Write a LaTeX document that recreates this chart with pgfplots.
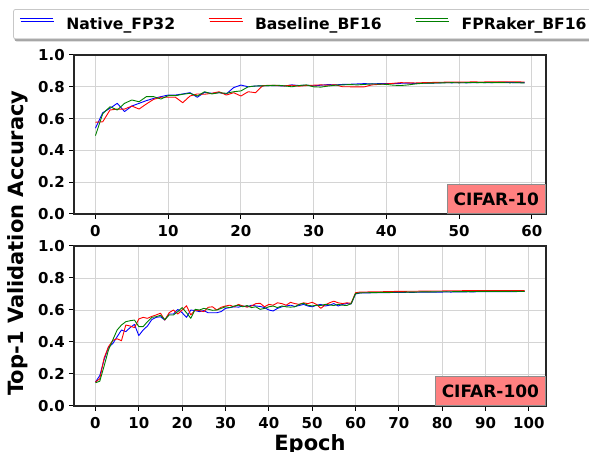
\documentclass[border=0pt]{standalone}
\usepackage{fontspec}
\setmainfont{DejaVu Sans}
\usepackage{pgfplots}
\pgfplotsset{compat=1.18}
\usepackage{pgfplotstable}
\usetikzlibrary{shadows}

\definecolor{mblue}{rgb}{0,0,1}
\definecolor{mred}{rgb}{1,0,0}
\definecolor{mgreen}{rgb}{0,0.5,0}
\definecolor{boxred}{HTML}{FF8080}

% CIFAR-10: epoch, Native_FP32, Baseline_BF16, FPRaker_BF16
\pgfplotstableread{
e n b f
0 0.540 0.577 0.493
1 0.637 0.580 0.630
2 0.665 0.654 0.675
3 0.696 0.660 0.654
4 0.644 0.660 0.696
5 0.679 0.679 0.717
6 0.696 0.660 0.706
7 0.713 0.692 0.738
8 0.727 0.721 0.738
9 0.738 0.734 0.723
10 0.748 0.734 0.744
11 0.748 0.734 0.744
12 0.755 0.700 0.753
13 0.763 0.742 0.759
14 0.734 0.755 0.742
15 0.765 0.753 0.769
16 0.759 0.759 0.755
17 0.763 0.769 0.763
18 0.755 0.748 0.759
19 0.795 0.763 0.769
20 0.811 0.742 0.774
21 0.800 0.769 0.800
22 0.805 0.763 0.805
23 0.806 0.807 0.806
24 0.808 0.810 0.808
25 0.807 0.808 0.810
26 0.805 0.806 0.806
27 0.812 0.810 0.800
28 0.808 0.804 0.808
29 0.810 0.808 0.812
30 0.806 0.810 0.800
31 0.810 0.812 0.798
32 0.814 0.810 0.805
33 0.812 0.813 0.810
34 0.815 0.800 0.812
35 0.816 0.800 0.814
36 0.818 0.799 0.812
37 0.820 0.800 0.815
38 0.818 0.812 0.818
39 0.820 0.815 0.817
40 0.821 0.818 0.815
41 0.820 0.822 0.810
42 0.822 0.826 0.808
43 0.823 0.825 0.812
44 0.821 0.824 0.818
45 0.822 0.826 0.822
46 0.823 0.827 0.823
47 0.824 0.828 0.824
48 0.826 0.829 0.825
49 0.825 0.830 0.826
50 0.826 0.829 0.825
51 0.825 0.830 0.826
52 0.826 0.831 0.827
53 0.827 0.830 0.826
54 0.826 0.831 0.827
55 0.827 0.832 0.826
56 0.828 0.831 0.826
57 0.827 0.832 0.825
58 0.826 0.831 0.826
59 0.826 0.830 0.824
}\cifarten

% CIFAR-100
\pgfplotstableread{
e n b f
0 0.150 0.150 0.145
1 0.190 0.170 0.155
2 0.290 0.300 0.250
3 0.367 0.370 0.350
4 0.390 0.410 0.413
5 0.433 0.420 0.475
6 0.475 0.408 0.506
7 0.465 0.506 0.527
8 0.490 0.500 0.533
9 0.510 0.490 0.537
10 0.440 0.544 0.496
11 0.475 0.554 0.496
12 0.500 0.548 0.527
13 0.540 0.560 0.554
14 0.554 0.569 0.558
15 0.558 0.580 0.567
16 0.537 0.537 0.540
17 0.575 0.583 0.569
18 0.575 0.600 0.569
19 0.604 0.575 0.590
20 0.583 0.600 0.615
21 0.554 0.627 0.583
22 0.600 0.569 0.548
23 0.596 0.600 0.604
24 0.590 0.596 0.600
25 0.596 0.590 0.610
26 0.583 0.617 0.605
27 0.583 0.620 0.598
28 0.583 0.600 0.600
29 0.590 0.617 0.610
30 0.610 0.625 0.620
31 0.615 0.630 0.615
32 0.620 0.620 0.625
33 0.618 0.635 0.630
34 0.625 0.625 0.620
35 0.620 0.618 0.628
36 0.630 0.625 0.615
37 0.625 0.640 0.620
38 0.622 0.642 0.604
39 0.615 0.620 0.610
40 0.600 0.635 0.620
41 0.594 0.630 0.625
42 0.610 0.645 0.615
43 0.620 0.640 0.625
44 0.625 0.630 0.620
45 0.630 0.648 0.618
46 0.622 0.640 0.620
47 0.628 0.635 0.635
48 0.635 0.645 0.642
49 0.625 0.640 0.630
50 0.620 0.648 0.625
51 0.630 0.635 0.630
52 0.635 0.610 0.628
53 0.625 0.632 0.635
54 0.630 0.645 0.632
55 0.640 0.655 0.628
56 0.625 0.645 0.635
57 0.635 0.640 0.630
58 0.640 0.645 0.628
59 0.638 0.642 0.640
60 0.700 0.708 0.703
61 0.706 0.712 0.707
62 0.707 0.712 0.708
63 0.707 0.713 0.708
64 0.708 0.713 0.709
65 0.708 0.714 0.709
66 0.709 0.714 0.710
67 0.709 0.715 0.710
68 0.709 0.715 0.710
69 0.710 0.716 0.711
70 0.710 0.716 0.711
71 0.710 0.716 0.711
72 0.711 0.717 0.712
73 0.710 0.717 0.712
74 0.711 0.717 0.712
75 0.711 0.718 0.713
76 0.712 0.718 0.713
77 0.711 0.718 0.713
78 0.712 0.719 0.713
79 0.712 0.719 0.714
80 0.712 0.719 0.714
81 0.713 0.720 0.714
82 0.712 0.720 0.714
83 0.713 0.720 0.715
84 0.713 0.720 0.715
85 0.713 0.721 0.715
86 0.714 0.721 0.715
87 0.713 0.721 0.715
88 0.714 0.721 0.716
89 0.714 0.721 0.716
90 0.714 0.722 0.716
91 0.714 0.722 0.716
92 0.715 0.722 0.716
93 0.714 0.722 0.716
94 0.715 0.722 0.716
95 0.715 0.722 0.716
96 0.715 0.722 0.717
97 0.715 0.722 0.716
98 0.716 0.722 0.717
99 0.716 0.721 0.716
}\cifarhundred

\pgfplotsset{
  accpanel/.style={
    scale only axis,
    width=472pt,
    anchor=south west,
    ymin=0, ymax=1,
    ytick={0,0.2,0.4,0.6,0.8,1},
    yticklabel style={/pgf/number format/fixed,
      /pgf/number format/fixed zerofill,
      /pgf/number format/precision=1},
    /pgf/number format/assume math mode=true,
    tick label style={font=\fontsize{15}{18}\selectfont\bfseries},
    xticklabel style={inner sep=0pt, anchor=north, yshift=-6pt},
    yticklabel style={inner sep=0pt, anchor=east, xshift=-4pt},
    grid=major,
    major grid style={black!17, line width=0.9pt},
    axis line style={black!85, line width=1.1pt},
    tick align=outside,
    tick pos=left,
    major tick length=5pt,
    tick style={black, line width=1pt},
    every axis plot/.append style={line width=0.9pt, line join=round},
  },
}
\tikzset{
  tagbox/.style={draw=black!45, line width=1pt, fill=boxred,
    font=\fontsize{17}{20}\selectfont\bfseries,
    inner xsep=6.5pt, inner ysep=8pt, anchor=south east},
}

\begin{document}
\begin{tikzpicture}

% CIFAR-10 panel
\begin{axis}[
  accpanel,
  at={(74pt,238pt)},
  height=159pt,
  xmin=-2.95, xmax=61.95,
  xtick={0,10,20,30,40,50,60},
  legend columns=3,
  legend image code/.code={\draw[#1] (0pt,5.5pt) -- (33pt,5.5pt);},
  legend style={
    at={(-0.129,1.289)}, anchor=north west,
    draw=black!22, line width=0.8pt, rounded corners=2pt, fill=white,
    drop shadow={shadow xshift=1pt, shadow yshift=-2.5pt, fill=black!35, opacity=1},
    font=\fontsize{15.6}{18}\selectfont\bfseries,
    inner xsep=6pt, inner ysep=6pt,
    nodes={inner xsep=0pt, inner ysep=2pt},
    /tikz/every odd column/.append style={column sep=13pt},
    /tikz/every even column/.append style={column sep=33pt},
  },
]
\addplot[mblue] table[x=e, y=n] {\cifarten};
\addlegendentry{Native\_FP32}
\addplot[mred] table[x=e, y=b] {\cifarten};
\addlegendentry{Baseline\_BF16}
\addplot[mgreen] table[x=e, y=f] {\cifarten};
\addlegendentry{FPRaker\_BF16}
\node[tagbox] at (rel axis cs:1,0) {CIFAR-10};
\end{axis}

% CIFAR-100 panel
\begin{axis}[
  accpanel,
  at={(74pt,46pt)},
  height=160pt,
  xmin=-4.95, xmax=103.95,
  xtick={0,10,20,30,40,50,60,70,80,90,100},
]
\addplot[mblue] table[x=e, y=n] {\cifarhundred};
\addplot[mred] table[x=e, y=b] {\cifarhundred};
\addplot[mgreen] table[x=e, y=f] {\cifarhundred};
\node[tagbox] at (rel axis cs:1,0) {CIFAR-100};
\end{axis}

\node[rotate=90, anchor=base, font=\fontsize{21}{25}\selectfont\bfseries]
  at (23.3pt,209pt) {Top-1 Validation Accuracy};
\node[anchor=base, font=\fontsize{21}{25}\selectfont\bfseries]
  at (310pt,1.5pt) {Epoch};

\pgfresetboundingbox
\path[use as bounding box] (0pt,0pt) rectangle (589pt,452pt);
\end{tikzpicture}
\end{document}
